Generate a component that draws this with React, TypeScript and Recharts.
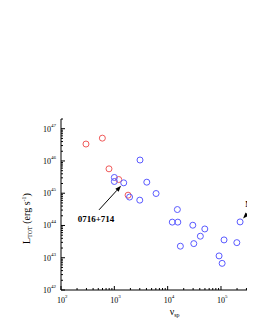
import React from 'react';
import { ScatterChart, Scatter, XAxis, YAxis, ReferenceLine, ReferenceDot, Label } from 'recharts';

// red sample (nu_sp, L_tot)
const redNuSp = [294, 596, 794, 1210, 1810];
const redLTot = [3.35e46, 5.1e46, 5.7e45, 2.66e45, 8.7e44];

// blue sample (nu_sp, L_tot)
const blueNuSp = [1000, 1000, 1500, 1930, 3030, 3000, 4060, 6060, 15200, 12200, 15500, 29600, 49700, 41000, 30900, 17300, 114000, 198000, 92000, 105000, 228000];
const blueLTot = [3.08e45, 2.31e45, 2.1e45, 7.6e44, 1.07e46, 6.1e44, 2.2e45, 9.8e44, 3.12e44, 1.27e44, 1.27e44, 1.02e44, 7.8e43, 4.65e43, 2.74e43, 2.28e43, 3.57e43, 2.94e43, 1.14e43, 6.7e42, 1.29e44];

const xDecades = [2, 3, 4, 5, 6];
const yDecades = [42, 43, 44, 45, 46, 47];
const minorSteps = [1, 2, 3, 4, 5, 6, 7, 8, 9];

const buildTicks = (decades: number[], max: number) => {
  const out: number[] = [];
  decades.forEach((d) => minorSteps.forEach((m) => {
    const v = m * Math.pow(10, d);
    if (v <= max * 1.0001) out.push(v);
  }));
  return out;
};

const xTicks = buildTicks(xDecades, 1e6);
const yTicks = buildTicks(yDecades, 2e47);

const redData = redNuSp.map((x, i) => ({ x, y: redLTot[i] }));
const blueData = blueNuSp.map((x, i) => ({ x, y: blueLTot[i] }));

const FONT = '"Liberation Serif", "DejaVu Serif", serif';

const isMajor = (v: number) => {
  const e = Math.round(Math.log10(v));
  return Math.abs(v - Math.pow(10, e)) / v < 1e-6;
};

const XTick = (props: any) => {
  const { x, y, payload } = props;
  const v = payload.value;
  const major = isMajor(v);
  const exp = Math.round(Math.log10(v));
  // labels past the cropped right edge are not shown
  const showLabel = major && x < 240;
  return (
    <g>
      <line x1={x} y1={y} x2={x} y2={y - (major ? 4 : 2)} stroke="#000" strokeWidth={1} />
      {showLabel && (
        <g fontFamily={FONT} fill="#000">
          <text x={x} y={y + 13} textAnchor="middle" fontSize={8}>10</text>
          <text x={x + 4} y={y + 8} fontSize={5}>{exp}</text>
        </g>
      )}
    </g>
  );
};

const YTick = (props: any) => {
  const { x, y, payload } = props;
  const v = payload.value;
  const major = isMajor(v);
  const exp = Math.round(Math.log10(v));
  return (
    <g>
      <line x1={x} y1={y} x2={x + (major ? 4 : 2)} y2={y} stroke="#000" strokeWidth={1} />
      {major && (
        <g fontFamily={FONT} fill="#000">
          <text x={x - 10} y={y + 3} textAnchor="end" fontSize={8}>10</text>
          <text x={x - 10} y={y - 2} fontSize={5}>{exp}</text>
        </g>
      )}
    </g>
  );
};

const Arrow = (props: any) => {
  const { x1, y1, x2, y2 } = props;
  const ang = Math.atan2(y2 - y1, x2 - x1);
  const len = 6;
  const w = 2.2;
  const bx = x2 - len * Math.cos(ang);
  const by = y2 - len * Math.sin(ang);
  const px = -Math.sin(ang) * w;
  const py = Math.cos(ang) * w;
  return (
    <g>
      <line x1={x1} y1={y1} x2={bx} y2={by} stroke="#000" strokeWidth={1} />
      <polygon points={`${x2},${y2} ${bx + px},${by + py} ${bx - px},${by - py}`} fill="#000" />
    </g>
  );
};

const ring = (color: string) => (p: any) => (
  <circle cx={p.cx} cy={p.cy} r={3} fill="none" stroke={color} strokeWidth={1} />
);

const tagText = (text: string, anchor: 'start' | 'middle') => (p: any) => (
  <text x={p.cx} y={p.cy} textAnchor={anchor} fontFamily={FONT} fontWeight="bold" fontSize={9} fill="#000">{text}</text>
);

const YTitle = (props: any) => {
  const { viewBox } = props;
  const cx = viewBox.x + 14;
  const cy = viewBox.y + viewBox.height / 2 + 14;
  return (
    <text x={cx} y={cy} transform={`rotate(-90, ${cx}, ${cy})`} textAnchor="middle" fontFamily={FONT} fontSize={10} fill="#000">
      L<tspan fontSize={6} dy={2}>TOT</tspan>
      <tspan dy={-2}> (erg s</tspan>
      <tspan fontSize={6} dy={-4}>-1</tspan>
      <tspan dy={4}>)</tspan>
    </text>
  );
};

const XTitle = (props: any) => {
  const { viewBox } = props;
  const cx = viewBox.x + viewBox.width / 2 + 7;
  const cy = viewBox.y + 25;
  return (
    <text x={cx} y={cy} textAnchor="middle" fontFamily={FONT} fontSize={10} fill="#000">
      ν<tspan fontSize={6} dy={2}>sp</tspan>
    </text>
  );
};

export default function App() {
  return (
    <div style={{ width: 247, height: 314, overflow: 'hidden' }}>
      <ScatterChart width={280} height={314} margin={{ top: 111, right: 13.67, bottom: 2, left: 8 }}>
        <XAxis
          type="number"
          dataKey="x"
          scale="log"
          domain={[100, 1e6]}
          ticks={xTicks}
          interval={0}
          allowDataOverflow
          tickSize={0}
          tickMargin={0}
          tickLine={false}
          tick={<XTick />}
          height={30}
          stroke="#000"
        >
          <Label content={<XTitle />} />
        </XAxis>
        <YAxis
          type="number"
          dataKey="y"
          scale="log"
          domain={[1e42, 2e47]}
          ticks={yTicks}
          interval={0}
          allowDataOverflow
          tickSize={0}
          tickMargin={0}
          tickLine={false}
          tick={<YTick />}
          width={45}
          stroke="#000"
        >
          <Label content={<YTitle />} />
        </YAxis>
        <Scatter data={redData} shape={ring('#f05a5a')} isAnimationActive={false} />
        <Scatter data={blueData} shape={ring('#5a5aff')} isAnimationActive={false} />
        <ReferenceLine segment={[{ x: 516, y: 3.05e44 }, { x: 1336, y: 1.7e45 }]} shape={<Arrow />} ifOverflow="visible" />
        <ReferenceDot x={453} y={1.29e44} r={0} shape={tagText('0716+714', 'middle')} ifOverflow="visible" />
        <ReferenceLine segment={[{ x: 390000, y: 3.4e44 }, { x: 259000, y: 1.66e44 }]} shape={<Arrow />} ifOverflow="visible" />
        <ReferenceDot x={285000} y={3.78e44} r={0} shape={tagText('Mrk 421', 'start')} ifOverflow="visible" />
      </ScatterChart>
    </div>
  );
}
